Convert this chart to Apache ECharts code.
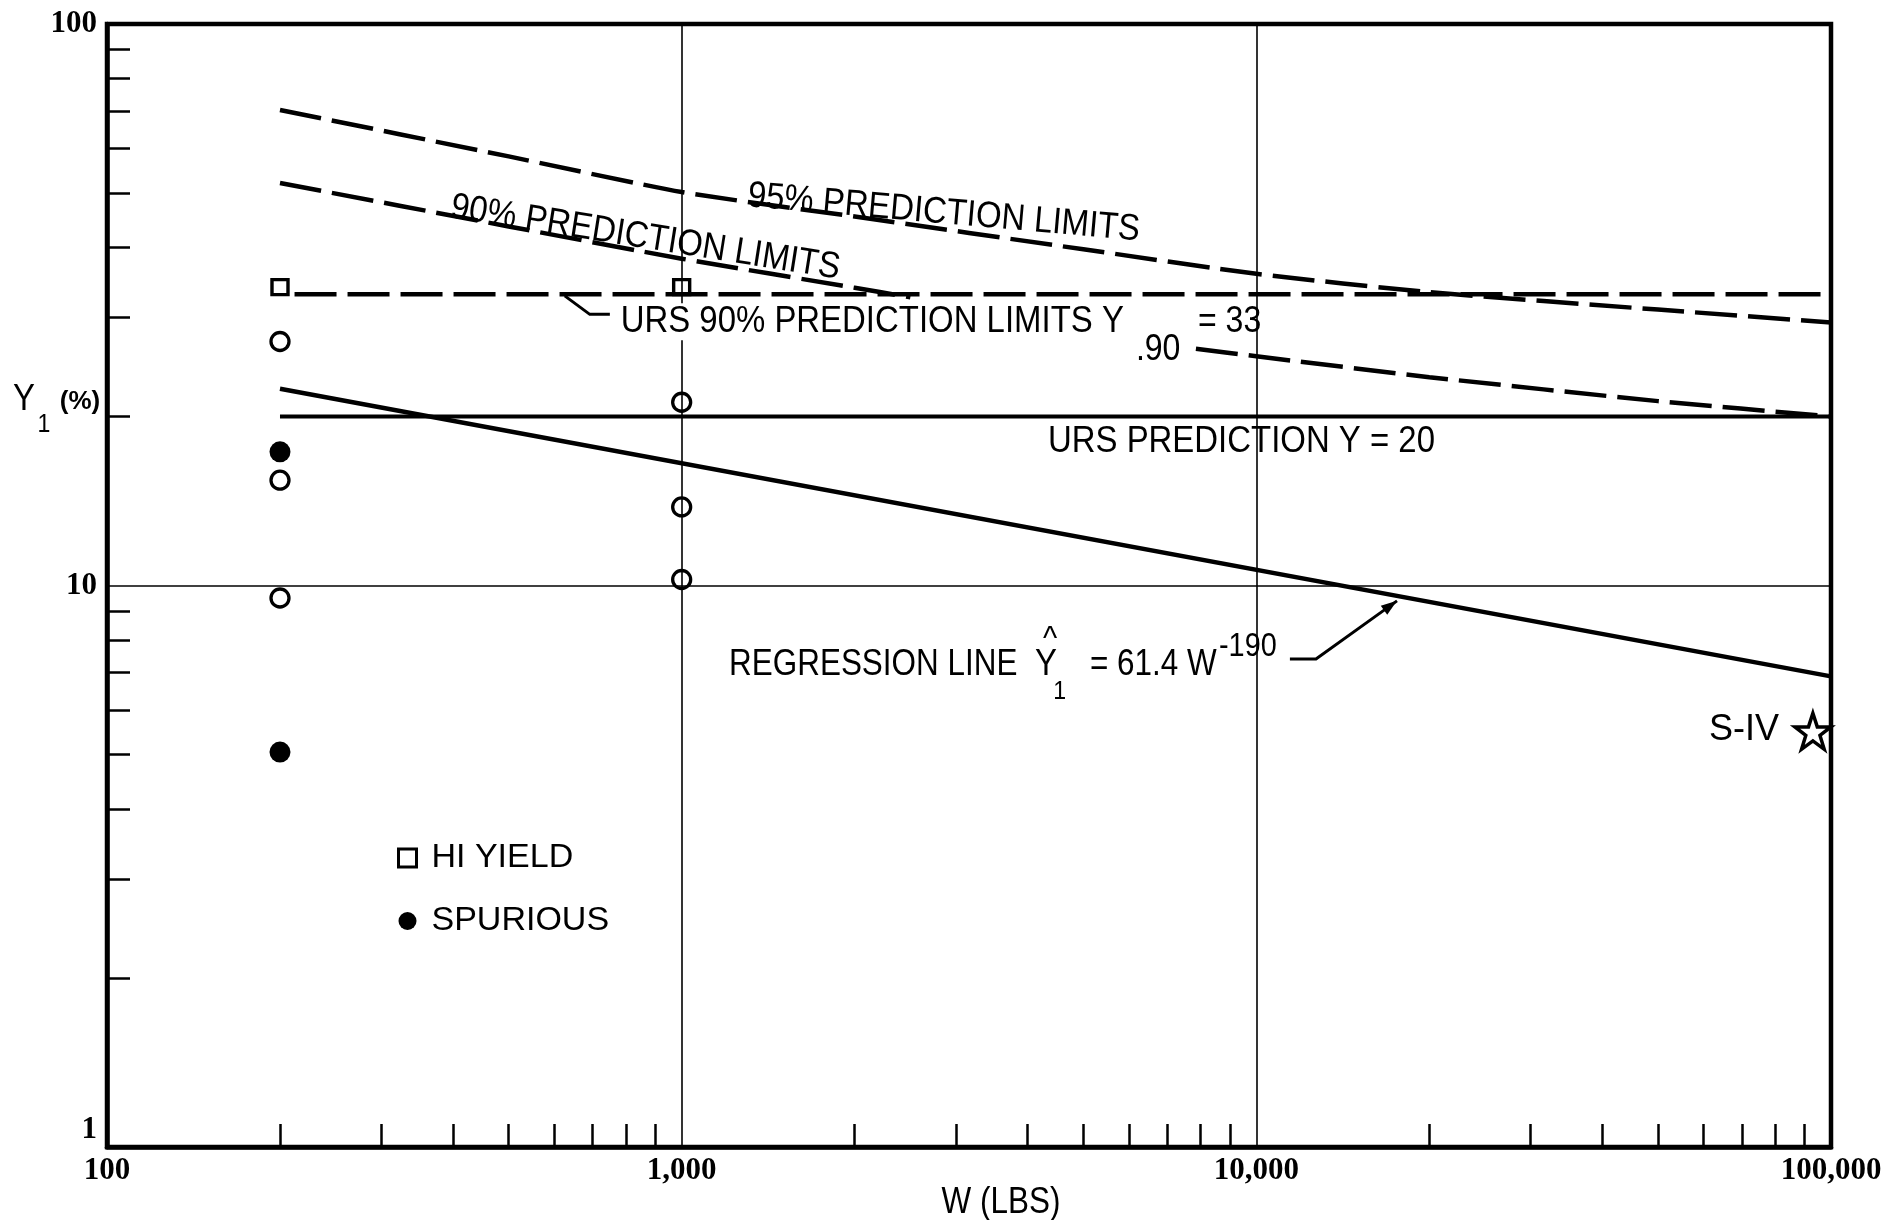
<!DOCTYPE html>
<html>
<head>
<meta charset="utf-8">
<script src="https://cdn.jsdelivr.net/npm/echarts@6/dist/echarts.min.js"></script>
<style>
  html, body { margin: 0; padding: 0; background: #fff; }
  #chart { width: 1885px; height: 1220px; }
</style>
</head>
<body>
<div id="chart"></div>
<script>
// ---- axis ticks and labels ----
const xDecades = [100, 1000, 10000, 100000];
const xTickLabels = ['100', '1,000', '10,000', '100,000'];
const yDecades = [1, 10, 100];
const yTickLabels = ['1', '10', '100'];

// ---- test points: [W (lbs), Y1 (%)] ----
const hiYield = [[200, 34.0], [1000, 34.0]];
const spurious = [[200, 17.3], [200, 5.05]];
const otherTests = [[200, 27.2], [200, 15.4], [200, 9.5], [1000, 21.2], [1000, 13.8], [1000, 10.25]];
const sIV = [[93000, 5.5]];

// ---- fitted and predicted lines ----
const regressionLine = [[200, 22.4], [100000, 6.89]];
const ursPrediction = [[200, 20], [100000, 20]];
const urs90Limit = [[212, 33], [100000, 33]];
const limits95 = [[200, 70.3], [500, 58.1], [1000, 50.2], [2000, 45.4], [5000, 39.7],
                  [10000, 35.9], [20000, 33.3], [50000, 31.0], [100000, 29.4]];
const limits90 = [[200, 52.1], [500, 43.6], [1000, 38.2], [2000, 33.9], [2500, 32.6],
                  [5000, null], [7850, 26.4], [10000, 25.6], [20000, 23.5], [50000, 21.3], [100000, 20.0]];

// minor ticks at 2..9 within each decade
const minorTicks = (decades) =>
  decades.slice(0, -1).flatMap(d => [2, 3, 4, 5, 6, 7, 8, 9].map(k => k * d));

const SANS = '"Liberation Sans", Arial, sans-serif';
const SERIF = '"Liberation Serif", "DejaVu Serif", serif';
const BLACK = '#000';
const HOLLOW = 'rgba(0,0,0,0)';
const STAR = 'path://M50,2 L61.5,36 L97,36 L68.5,57.5 L79.5,92 L50,71 L20.5,92 L31.5,57.5 L3,36 L38.5,36 Z';
const NARROW_X = 0.89;   // horizontal squeeze for the stencil-style lettering

const decadeIndex = (v) => Math.round(Math.log10(v));

const chart = echarts.init(document.getElementById('chart'), null, { renderer: 'canvas' });

const dashed = (w) => ({ color: BLACK, width: w, type: [42, 11] });
const hollowStyle = { color: HOLLOW, borderColor: BLACK, borderWidth: 3.3, opacity: 1 };

const option = {
  animation: false,
  backgroundColor: '#fff',
  grid: {
    left: 107, right: 54, top: 24, bottom: 73,
    show: true, borderColor: BLACK, borderWidth: 4.5, backgroundColor: 'transparent'
  },
  legend: {
    orient: 'vertical',
    left: 392, top: 836,
    itemWidth: 18, itemHeight: 18, itemGap: 29,
    selectedMode: false,
    textStyle: { fontFamily: SANS, fontSize: 34, color: BLACK, padding: [0, 0, 0, 10] },
    data: [
      { name: 'HI YIELD', icon: 'rect', itemStyle: { color: HOLLOW, borderColor: BLACK, borderWidth: 3, opacity: 1 } },
      { name: 'SPURIOUS', icon: 'circle', itemStyle: { color: BLACK, opacity: 1 } }
    ]
  },
  xAxis: [
    {
      type: 'log', logBase: 10, min: 100, max: 100000, splitNumber: 3,
      position: 'bottom',
      axisLine: { show: true, lineStyle: { color: BLACK, width: 4.5 } },
      axisTick: { show: false },
      axisLabel: {
        margin: 8, color: BLACK, fontFamily: SERIF, fontWeight: 'bold', fontSize: 31,
        formatter: (v) => xTickLabels[decadeIndex(v) - 2] || ''
      },
      splitLine: { show: true, lineStyle: { color: BLACK, width: 1.6 } }
    },
    {
      type: 'log', logBase: 10, min: 100, max: 100000,
      position: 'bottom',
      axisLine: { show: false },
      axisTick: {
        show: true, inside: true, length: 23,
        customValues: minorTicks(xDecades),
        lineStyle: { color: BLACK, width: 2.5 }
      },
      axisLabel: { show: false },
      splitLine: { show: false }
    }
  ],
  yAxis: [
    {
      type: 'log', logBase: 10, min: 1, max: 100, splitNumber: 2,
      position: 'left',
      axisLine: { show: true, lineStyle: { color: BLACK, width: 4.5 } },
      axisTick: { show: false },
      axisLabel: {
        margin: 10, color: BLACK, fontFamily: SERIF, fontWeight: 'bold', fontSize: 31,
        formatter: (v) => {
          const i = decadeIndex(v);
          return i === 0 ? '{low|' + yTickLabels[0] + '}' : (yTickLabels[i] || '');
        },
        rich: {
          low: { fontFamily: SERIF, fontWeight: 'bold', fontSize: 31, color: BLACK, padding: [0, 0, 34, 0] }
        }
      },
      splitLine: { show: true, lineStyle: { color: BLACK, width: 1.6 } }
    },
    {
      type: 'log', logBase: 10, min: 1, max: 100,
      position: 'left',
      axisLine: { show: false },
      axisTick: {
        show: true, inside: true, length: 23,
        customValues: minorTicks(yDecades),
        lineStyle: { color: BLACK, width: 2.5 }
      },
      axisLabel: { show: false },
      splitLine: { show: false }
    }
  ],
  series: [
    {
      name: '95% prediction limits', type: 'line', data: limits95,
      symbol: 'none', smooth: 0.2, lineStyle: dashed(4.5), z: 2
    },
    {
      name: '90% prediction limits', type: 'line', data: limits90,
      symbol: 'none', smooth: 0.2, connectNulls: false, lineStyle: dashed(4.5), z: 2
    },
    {
      name: 'URS 90% prediction limit', type: 'line', data: urs90Limit,
      symbol: 'none', lineStyle: dashed(4.5), z: 2
    },
    {
      name: 'URS prediction', type: 'line', data: ursPrediction,
      symbol: 'none', lineStyle: { color: BLACK, width: 4 }, z: 2
    },
    {
      name: 'Regression line', type: 'line', data: regressionLine,
      symbol: 'none', lineStyle: { color: BLACK, width: 4.5 }, z: 2
    },
    {
      name: 'Tests', type: 'scatter', data: otherTests,
      symbol: 'circle', symbolSize: 18, itemStyle: hollowStyle, z: 4
    },
    {
      name: 'HI YIELD', type: 'scatter', data: hiYield,
      symbol: 'rect', symbolSize: [16, 15], itemStyle: hollowStyle, z: 4
    },
    {
      name: 'SPURIOUS', type: 'scatter', data: spurious,
      symbol: 'circle', symbolSize: 21, itemStyle: { color: BLACK, opacity: 1 }, z: 4
    },
    {
      name: 'S-IV', type: 'scatter', data: sIV,
      symbol: STAR, symbolSize: 36, itemStyle: { ...hollowStyle, borderWidth: 3.5 }, z: 4
    }
  ]
};

chart.setOption(option);

// ---- annotations, anchored in data space ----
const toPx = (pt) => chart.convertToPixel({ gridIndex: 0 }, pt);

function textEl(x, y, text, o = {}) {
  const style = {
    text, fill: BLACK,
    fontFamily: o.family || SANS,
    fontSize: o.size || 37,
    fontWeight: o.weight || 'normal',
    align: o.align || 'left', textAlign: o.align || 'left',
    verticalAlign: 'middle', textVerticalAlign: 'middle'
  };
  if (o.bg) { style.backgroundColor = '#fff'; style.padding = [0, 4, 0, 4]; }
  return {
    type: 'text', x, y, z: 20,
    rotation: -(o.rot || 0) * Math.PI / 180,
    scaleX: o.sx == null ? NARROW_X : o.sx,
    style
  };
}

function label(anchor, text, o = {}) {
  const [x, y] = toPx(anchor);
  return textEl(x, y, text, o);
}

function leader(points, arrow) {
  const px = points.map(toPx);
  const els = [{
    type: 'polyline', z: 20,
    shape: { points: px },
    style: { stroke: BLACK, lineWidth: 3, fill: null }
  }];
  if (arrow) {
    const [a, b] = [px[px.length - 2], px[px.length - 1]];
    const dx = b[0] - a[0], dy = b[1] - a[1];
    const len = Math.hypot(dx, dy), ux = dx / len, uy = dy / len;
    const L = 16, H = 5.5;
    els.push({
      type: 'polygon', z: 20,
      shape: { points: [b, [b[0] - ux * L - uy * H, b[1] - uy * L + ux * H], [b[0] - ux * L + uy * H, b[1] - uy * L - ux * H]] },
      style: { fill: BLACK }
    });
  }
  return els;
}

const graphics = [
  label([1304, 49.4], '95% PREDICTION LIMITS', { rot: 5.0 }),
  label([397, 47.2], '90% PREDICTION LIMITS', { rot: 9.0 }),
  label([772, 29.5], 'URS 90% PREDICTION LIMITS Y', { bg: true }),
  label([6172, 26.3], '.90', { size: 36 }),
  label([7914, 29.5], '= 33', { size: 36 }),
  ...leader([[626, 32.8], [692, 30.4], [750, 30.4]], false),
  label([4339, 18.0], 'URS PREDICTION Y = 20'),
  label([1209, 7.22], 'REGRESSION LINE', { sx: 0.85 }),
  label([4305, 7.22], 'Y', { align: 'center' }),
  label([4375, 8.0], '^', { align: 'center', size: 34 }),
  label([4550, 6.46], '1', { align: 'center', size: 26 }),
  label([5134, 7.22], '= 61.4 W', { sx: 0.85 }),
  label([8610, 7.77], '-190', { size: 34, sx: 0.85 }),
  ...leader([[11440, 7.40], [12700, 7.40], [17570, 9.39]], true),
  label([81200, 5.53], 'S-IV', { align: 'right', size: 36, sx: 1 }),
  // axis titles
  textEl(1001, 1203, 'W (LBS)', { align: 'center', sx: 0.85 }),
  textEl(24, 400, 'Y', { align: 'center' }),
  textEl(44, 425, '1', { align: 'center', size: 26 }),
  textEl(80, 402, '(%)', { align: 'center', size: 26, weight: 'bold', sx: 1 })
];

chart.setOption({ graphic: graphics });
</script>
</body>
</html>
